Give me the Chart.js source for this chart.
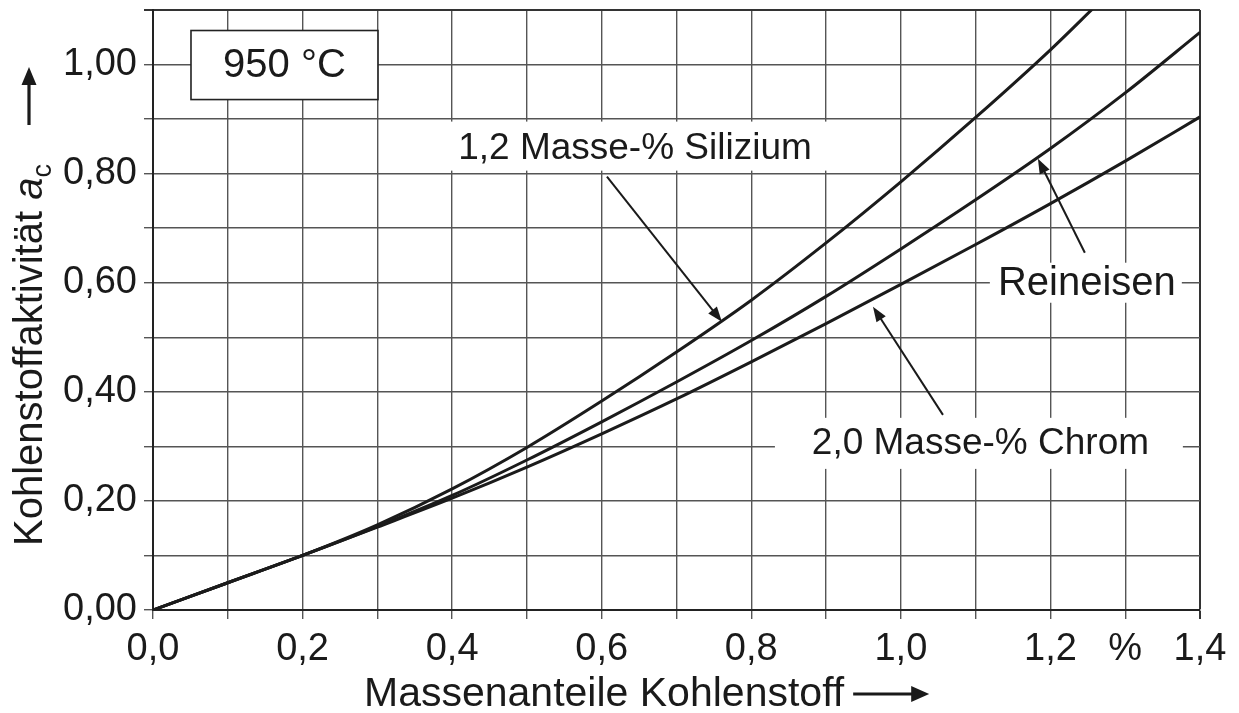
<!DOCTYPE html>
<html>
<head>
<meta charset="utf-8">
<script src="https://cdn.jsdelivr.net/npm/chart.js@4.4.1/dist/chart.umd.min.js"></script>
<style>
html,body{margin:0;padding:0;background:#fff;}
#wrap{width:1239px;height:713px;}
</style>
</head>
<body>
<div id="wrap"><canvas id="c" width="1239" height="713"></canvas></div>
<script>
// ---- data ----
const carbon      = [0.0, 0.1, 0.2, 0.3, 0.4, 0.5, 0.6, 0.7, 0.8, 0.9, 1.0, 1.1, 1.2, 1.3, 1.4];
const reineisen   = [0, 0.050, 0.100, 0.153, 0.210, 0.275, 0.345, 0.418, 0.494, 0.575, 0.662, 0.752, 0.846, 0.948, 1.059];
const chrom       = [0, 0.050, 0.100, 0.152, 0.205, 0.262, 0.323, 0.387, 0.455, 0.525, 0.597, 0.670, 0.745, 0.823, 0.904];
const carbonSi    = [0.0, 0.1, 0.2, 0.3, 0.4, 0.5, 0.6, 0.7, 0.8, 0.9, 1.0, 1.1, 1.2, 1.26];
const silizium    = [0, 0.050, 0.100, 0.156, 0.222, 0.298, 0.383, 0.473, 0.568, 0.673, 0.785, 0.903, 1.027, 1.107];

const xTickLabels = {0:'0,0', 2:'0,2', 4:'0,4', 6:'0,6', 8:'0,8', 10:'1,0', 12:'1,2', 13:'%', 14:'1,4'};
const yTickLabels = {0:'0,00', 2:'0,20', 4:'0,40', 6:'0,60', 8:'0,80', 10:'1,00'};

const xTitle = 'Massenanteile Kohlenstoff';
const yTitle = 'Kohlenstoffaktivität ';
const yTitleSymbol = 'a';
const yTitleSub = 'c';
const tempLabel = '950 °C';

// annotation labels (positions in data units)
const labels = [
  {text:'1,2 Masse-% Silizium', size:37, cx:0.6445, cy:0.848, bg:[0.3035,0.8055,0.925,0.8954], from:[0.607,0.7945], to:[0.7607,0.5284]},
  {text:'Reineisen',            size:40, cx:1.2487, cy:0.600, bg:[1.119,0.5633,1.3757,0.6367], from:[1.246,0.655],  to:[1.1833,0.8275]},
  {text:'2,0 Masse-% Chrom',    size:37, cx:1.1064, cy:0.3064, bg:[0.8316,0.2587,1.3771,0.3523], from:[1.0563,0.3578], to:[0.9627,0.556]}
];
const tempBox = {x1:0.0508, y1:1.0624, x2:0.3008, y2:0.9358};

const FONT = "'Liberation Sans', Arial, sans-serif";
const INK = '#1a1a1a';

function mk(xs, ys){ return xs.map((x,i)=>({x:x, y:ys[i]})); }
function ds(label, xs, ys){
  return {label:label, data:mk(xs,ys), borderColor:'#1b1b1b', borderWidth:3, pointRadius:0,
          fill:false, cubicInterpolationMode:'monotone'};
}

function arrowHead(ctx, x1,y1,x2,y2, len, hw){
  const a = Math.atan2(y2-y1, x2-x1);
  ctx.beginPath();
  ctx.moveTo(x2,y2);
  ctx.lineTo(x2 - len*Math.cos(a) + hw*Math.sin(a), y2 - len*Math.sin(a) - hw*Math.cos(a));
  ctx.lineTo(x2 - len*Math.cos(a) - hw*Math.sin(a), y2 - len*Math.sin(a) + hw*Math.cos(a));
  ctx.closePath();
  ctx.fill();
}
function arrow(ctx, x1,y1,x2,y2, lw, len, hw){
  const a = Math.atan2(y2-y1, x2-x1);
  ctx.lineWidth = lw;
  ctx.beginPath();
  ctx.moveTo(x1,y1);
  ctx.lineTo(x2 - (len*0.7)*Math.cos(a), y2 - (len*0.7)*Math.sin(a));
  ctx.stroke();
  arrowHead(ctx, x1,y1,x2,y2, len, hw);
}

const bgPlugin = {
  id:'labelBackgrounds',
  beforeDatasetsDraw(chart){
    const ctx = chart.ctx, xs = chart.scales.x, ys = chart.scales.y;
    ctx.save();
    ctx.fillStyle = '#ffffff';
    labels.forEach(l=>{
      const x1 = xs.getPixelForValue(l.bg[0]), x2 = xs.getPixelForValue(l.bg[2]);
      const y1 = ys.getPixelForValue(l.bg[3]), y2 = ys.getPixelForValue(l.bg[1]);
      ctx.fillRect(x1, y1, x2-x1, y2-y1);
    });
    ctx.restore();
  }
};

const annoPlugin = {
  id:'annotations',
  afterDraw(chart){
    const ctx = chart.ctx, xs = chart.scales.x, ys = chart.scales.y;
    ctx.save();
    ctx.fillStyle = INK; ctx.strokeStyle = INK;
    ctx.textAlign = 'center'; ctx.textBaseline = 'middle';
    labels.forEach(l=>{
      ctx.font = l.size + 'px ' + FONT;
      ctx.fillText(l.text, xs.getPixelForValue(l.cx), ys.getPixelForValue(l.cy)+1);
      arrow(ctx, xs.getPixelForValue(l.from[0]), ys.getPixelForValue(l.from[1]),
                 xs.getPixelForValue(l.to[0]),   ys.getPixelForValue(l.to[1]), 2, 15, 5.5);
    });
    // temperature box
    const bx1 = xs.getPixelForValue(tempBox.x1), bx2 = xs.getPixelForValue(tempBox.x2);
    const by1 = ys.getPixelForValue(tempBox.y1), by2 = ys.getPixelForValue(tempBox.y2);
    ctx.fillStyle = '#fff';
    ctx.fillRect(bx1, by1, bx2-bx1, by2-by1);
    ctx.lineWidth = 1.6; ctx.strokeStyle = '#222';
    ctx.strokeRect(bx1, by1, bx2-bx1, by2-by1);
    ctx.fillStyle = INK;
    ctx.font = '40px ' + FONT;
    ctx.fillText(tempLabel, (bx1+bx2)/2, (by1+by2)/2 + 1);

    // x axis title with arrow
    ctx.font = '41px ' + FONT;
    ctx.textAlign = 'left'; ctx.textBaseline = 'alphabetic';
    const tx = 364, tby = 706;
    ctx.fillText(xTitle, tx, tby);
    const tw = ctx.measureText(xTitle).width;
    ctx.strokeStyle = INK;
    arrow(ctx, tx + tw + 9, 694, tx + tw + 85, 694, 3.2, 18, 8);

    // y axis title (rotated) with italic symbol, subscript, arrow
    ctx.save();
    ctx.translate(42, 546);
    ctx.rotate(-Math.PI/2);
    ctx.font = '40px ' + FONT;
    ctx.textAlign = 'left'; ctx.textBaseline = 'alphabetic';
    ctx.fillText(yTitle, 0, 0);
    let u = ctx.measureText(yTitle).width;
    ctx.font = 'italic 40px ' + FONT;
    ctx.fillText(yTitleSymbol, u, 0);
    u += ctx.measureText(yTitleSymbol).width;
    ctx.font = '27px ' + FONT;
    ctx.fillText(yTitleSub, u, 9);
    arrow(ctx, 421, -13, 479, -13, 3.2, 18, 7.5);
    ctx.restore();

    ctx.restore();
  }
};

function zeroPad(s){ s.paddingTop = 0; s.paddingBottom = 0; s.paddingLeft = 0; s.paddingRight = 0; }

const chart = new Chart(document.getElementById('c'), {
  type:'line',
  data:{ datasets:[
    ds('1,2 Masse-% Silizium', carbonSi, silizium),
    ds('Reineisen', carbon, reineisen),
    ds('2,0 Masse-% Chrom', carbon, chrom)
  ]},
  options:{
    responsive:false, animation:false, devicePixelRatio:1,
    layout:{padding:{top:10, right:39, left:0, bottom:0}},
    plugins:{legend:{display:false}, tooltip:{enabled:false}, title:{display:false}},
    scales:{
      x:{
        type:'linear', min:0, max:1.4,
        afterFit(s){ s.height = 103; zeroPad(s); },
        ticks:{stepSize:0.1, autoSkip:false, maxRotation:0, padding:8, color:INK,
               font:{family:FONT, size:38},
               callback(v){ const k = Math.round(v*10); return xTickLabels[k] !== undefined ? xTickLabels[k] : ''; }},
        grid:{color:(c)=> (c.tick && Math.abs(c.tick.value-1.4)<1e-6) ? '#333' : '#555',
              lineWidth:(c)=> (c.tick && Math.abs(c.tick.value-1.4)<1e-6) ? 2 : 1.4,
              tickLength:9, drawTicks:true},
        border:{color:'#222', width:2}
      },
      y:{
        type:'linear', min:0, max:1.1,
        afterFit(s){ s.width = 153; zeroPad(s); },
        ticks:{stepSize:0.1, autoSkip:false, padding:7, color:INK,
               font:{family:FONT, size:38},
               callback(v){ const k = Math.round(v*10); return yTickLabels[k] !== undefined ? yTickLabels[k] : ''; }},
        grid:{color:(c)=> (c.tick && Math.abs(c.tick.value-1.1)<1e-6) ? '#333' : '#555',
              lineWidth:(c)=> (c.tick && Math.abs(c.tick.value-1.1)<1e-6) ? 2 : 1.4,
              tickLength:9, drawTicks:true},
        border:{color:'#222', width:2}
      }
    }
  },
  plugins:[bgPlugin, annoPlugin]
});
</script>
</body>
</html>
